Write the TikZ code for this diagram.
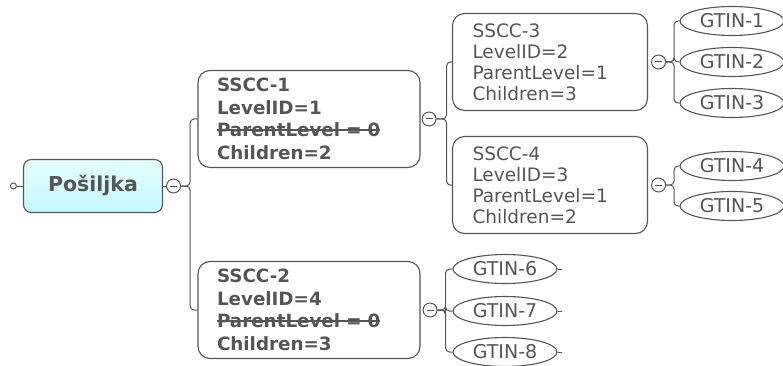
\documentclass[tikz,border=0pt]{standalone}
\usepackage{fontspec}
\setmainfont{DejaVu Sans}
\usetikzlibrary{positioning,shapes.geometric}
\definecolor{mapgray}{RGB}{85,85,85}
\definecolor{topicfill}{RGB}{196,250,255}
\newlength\strikewd
\newcommand\strikeline[1]{\leavevmode\settowidth\strikewd{#1}%
  \rlap{\rule[0.33em]{\strikewd}{1.6pt}}#1}
\tikzset{
% Map pieces: the central topic, the boxes, the leaves and the collapse buttons
topic node/.style={rectangle,rounded corners=8,draw,line width=1.1pt,
  top color=topicfill!45,bottom color=topicfill,minimum width=139,minimum height=53,
  font=\fontsize{20.5}{22}\selectfont\bfseries},
sscc node/.style={rectangle,rounded corners=12,draw,line width=1.1pt,align=left,
  inner xsep=19,inner ysep=0,minimum height=97},
wide node/.style={sscc node,text width=184,font=\fontsize{18.3}{22.5}\selectfont\bfseries},
narrow node/.style={sscc node,text width=155,inner xsep=20,font=\fontsize{18.5}{21}\selectfont},
gtin node/.style={ellipse,draw,line width=1.1pt,minimum width=104,minimum height=29,
  inner sep=0,font=\fontsize{19}{20}\selectfont},
collapse node/.style={circle,draw,minimum size=14,inner sep=0,
  path picture={\draw ([xshift=-3.5]path picture bounding box.center)
    -- ([xshift=3.5]path picture bounding box.center);}},
end node/.style={circle,draw,minimum size=6,inner sep=0},
branch/.style={rounded corners=4}
}

\begin{document}
\begin{tikzpicture}[x=1pt,y=-1pt,color=mapgray,line width=1pt]
  \useasboundingbox (0,0) rectangle (783,366);

  \node[topic node] (posiljka) at (93,186) {Pošiljka};
  \node[end node, left=6 of posiljka] (start) {};
  \node[collapse node, right=3 of posiljka] (col0) {};
  \draw (start) -- (posiljka);
  \draw (posiljka) -- (col0);

  \node[wide node] (sscc1) at (309,119)
    {SSCC-1\\LevelID=1\\\strikeline{ParentLevel = 0}\\Children=2};
  \node[wide node] (sscc2) at (309,310)
    {SSCC-2\\LevelID=4\\\strikeline{ParentLevel = 0}\\Children=3};
  \node[collapse node, right=1 of sscc1] (col1) {};
  \node[collapse node, right=2 of sscc2] (col2) {};
  \draw[branch] (col0.east) -- ++(9,0) |- (sscc1.west);
  \draw[branch] (col0.east) -- ++(9,0) |- (sscc2.west);

  \node[narrow node] (sscc3) at (550,62)
    {SSCC-3\\LevelID=2\\ParentLevel=1\\Children=3};
  \node[narrow node] (sscc4) at (550,185)
    {SSCC-4\\LevelID=3\\ParentLevel=1\\Children=2};
  \node[collapse node, right=3 of sscc3] (col3) {};
  \node[collapse node, right=3 of sscc4] (col4) {};
  \draw[branch] (col1.east) -- ++(10,0) |- (sscc3.west);
  \draw[branch] (col1.east) -- ++(10,0) |- (sscc4.west);

  % leaves
  \node[gtin node] (gtin1) at (732,21) {GTIN-1};
  \node[gtin node] (gtin2) at (732,62) {GTIN-2};
  \node[gtin node] (gtin3) at (732,103) {GTIN-3};
  \node[gtin node] (gtin4) at (732,166) {GTIN-4};
  \node[gtin node] (gtin5) at (732,206) {GTIN-5};
  \node[gtin node] (gtin6) at (505,269) {GTIN-6};
  \node[gtin node] (gtin7) at (505,311) {GTIN-7};
  \node[gtin node] (gtin8) at (505,352) {GTIN-8};
  \foreach \g in {1,2,3}
    \draw[branch] (col3.east) -- ++(8,0) |- (gtin\g.west);
  \foreach \g in {4,5}
    \draw[branch] (col4.east) -- ++(8,0) |- (gtin\g.west);
  \foreach \g in {6,7,8} {
    \draw[branch] (col2.east) -- ++(8,0) |- (gtin\g.west);
    \draw (gtin\g.east) -- ++(4,0);
  }
\end{tikzpicture}
\end{document}
